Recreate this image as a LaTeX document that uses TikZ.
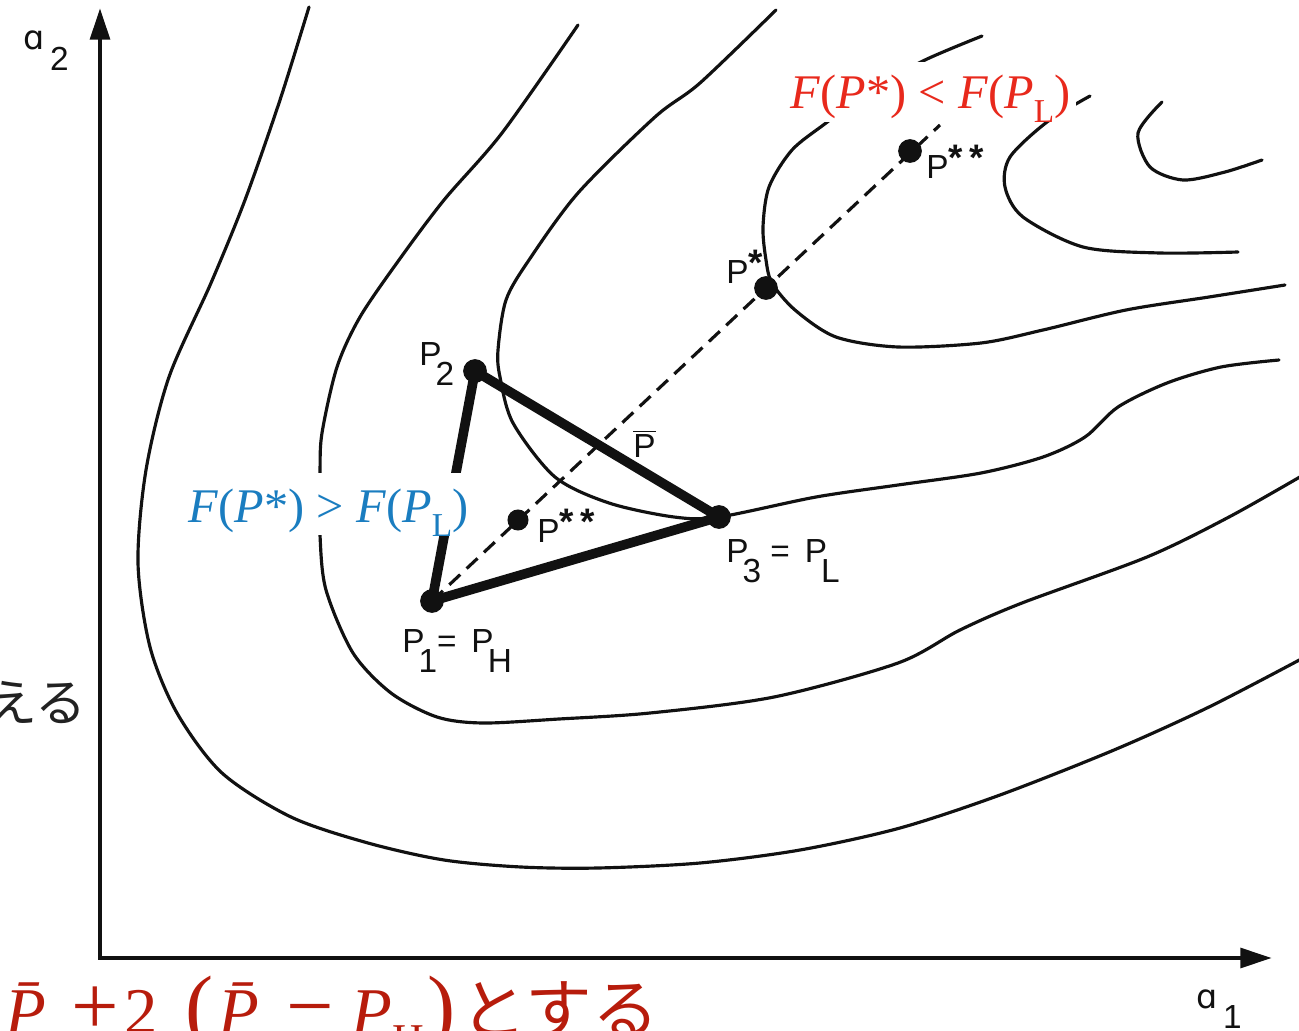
\documentclass[tikz,border=0pt]{standalone}
\usepackage{fontspec}
\usepackage{tikz}
\usetikzlibrary{arrows.meta}
\setmainfont{Liberation Serif}
\newfontfamily\lblfont{Liberation Sans}
\newfontfamily\alphafont{DejaVu Sans}
\newfontfamily\cjkfont{Noto Sans CJK JP}
\definecolor{ink}     {HTML}{111111}
\definecolor{inkgray} {HTML}{222222}
\definecolor{better}  {HTML}{E8291C}
\definecolor{worse}   {HTML}{1A7DC0}
\definecolor{noteRed} {HTML}{B71C0C}
\newcommand{\lsub}[1]{\kern-0.18em\raisebox{-0.62em}{#1}}
\newcommand{\lstar}[1]{\raisebox{0.22em}{\fontsize{21}{21}\selectfont\bfseries #1}}
\newcommand{\lbar}[1]{\ensuremath{\overline{\mbox{#1}}}}
\newcommand{\fsub}[1]{\raisebox{-0.3em}{\fontsize{19}{19}\selectfont #1}}
\newcommand{\bigpar}[1]{{\fontsize{48}{48}\selectfont #1}}
\tikzset{
  contour/.style ={draw=ink, line width=1.8pt, line cap=round},
  simplex/.style ={draw=ink, line width=5.5pt, line join=round, line cap=round},
  axis/.style    ={draw=ink, line width=2.8pt,
                   {Triangle[length=18pt,width=11pt]}-{Triangle[length=18pt,width=11pt]}},
  probe/.style   ={draw=ink, line width=1.8pt, dash pattern=on 8.5pt off 5pt},
  pt/.style      ={circle, fill=ink, inner sep=0pt, minimum size=13.5pt},
  lbl/.style     ={font=\lblfont\fontsize{19}{22}\selectfont, text=ink,
                   inner sep=0pt, anchor=base west},
  cond/.style    ={font=\fontsize{27.5}{30}\selectfont, fill=white,
                   inner xsep=3pt, inner ysep=0pt, anchor=base west},
}

\begin{document}
\begin{tikzpicture}[x=0.02cm, y=-0.02cm]
  \useasboundingbox (0,0) rectangle (1299,1031);

  \coordinate (top)    at (100,8);
  \coordinate (origin) at (100,958);
  \coordinate (right)  at (1272,958);
  \draw[axis] (top) -- (origin) -- (right);

  % contour lines, outermost first
  \draw[contour] plot[smooth] coordinates {(309,7) (280,100) (245,200) (211,283)
    (169,377) (146,470) (138,563) (150,647) (177,713) (222,773) (291,817) (368,843)
    (444,860) (521,867) (598,868) (700,863) (800,850) (900,828) (1000,795)
    (1114,750) (1209,707) (1305,657)};
  \draw[contour] plot[smooth] coordinates {(578,25) (502,133) (444,200) (399,260)
    (360,317) (337,367) (322,433) (320,473) (320,535) (326,590) (353,653) (391,693)
    (437,717) (483,723) (559,719) (650,713) (774,697) (898,663) (960,630)
    (1022,603) (1147,557) (1229,517) (1305,474)};
  \draw[contour] plot[smooth] coordinates {(776,10) (700,83) (655,117) (578,193)
    (529,260) (506,300) (498,350) (500,377) (513,423) (555,477) (609,503) (674,517)
    (719,517) (816,497) (898,485) (981,473) (1043,457) (1085,437) (1118,407)
    (1167,383) (1221,367) (1279,360)};
  \draw[contour] plot[smooth] coordinates {(982,36) (925,60) (870,90) (826,123)
    (792,150) (769,187) (763,227) (766,260) (772,283) (795,310) (836,337) (898,347)
    (981,343) (1043,330) (1126,310) (1209,297) (1285,285)};
  \draw[contour] plot[smooth] coordinates {(1090,96) (1047,122) (1010,157)
    (1005,187) (1023,217) (1083,247) (1160,253) (1238,252)};
  \draw[contour] plot[smooth] coordinates {(1162,102) (1138,133) (1150,167)
    (1183,180) (1225,172) (1262,160)};

  \node[pt] (P1)  at (432,601) {};
  \node[pt] (P2)  at (475,371) {};
  \node[pt] (P3)  at (719,517) {};
  \node[pt, minimum size=12pt] (Pss) at (518,520) {};
  \node[pt] (Ps)  at (766,288) {};
  \node[pt] (Pso) at (910,151) {};
  \coordinate (Pbar)   at (597,444);
  \coordinate (rayEnd) at (940,125);

  \draw[probe] (P1.center) -- (rayEnd);
  \draw[simplex] (P1.center) -- (P2.center) -- (P3.center) -- cycle;

  \node[lbl] (lP1)   at (402,652)  {P\lsub{1}= \,P\lsub{H}};
  \node[lbl] (lP2)   at (419,365)  {P\lsub{2}};
  \node[lbl] (lP3)   at (726,562)  {P\lsub{3} = \,P\lsub{L}};
  \node[lbl] (lPbar) at (633,457)  {\lbar{P}};
  \node[lbl] (lPss)  at (537,542)  {P\lstar{*\,*}};
  \node[lbl] (lPs)   at (726,283)  {P\lstar{*}};
  \node[lbl] (lPso)  at (926,178)  {P\lstar{*\,*}};
  \node[lbl] (la2)   at (23,50)    {{\alphafont ɑ}\hspace{0.35em}\lsub{2}};
  \node[lbl] (la1)   at (1196,1008){{\alphafont ɑ}\hspace{0.35em}\lsub{1}};

  \node[cond, text=better, text height=26pt, text depth=8pt] (condLess) at (785,108)
    {\textit{F}(\textit{P}*)\kern7pt<\kern7pt\textit{F}(\textit{P}\fsub{L})};
  \node[cond, text=worse, text height=28pt, text depth=7.4pt] (condMore) at (183,522)
    {\textit{F}(\textit{P}*)\kern7pt>\kern7pt\textit{F}(\textit{P}\fsub{L})};

  \node[font=\cjkfont\fontsize{29}{29}\selectfont, text=inkgray, inner sep=0pt,
        anchor=base east] (noteTop) at (87,721) {える};
  \node[font=\fontsize{38}{38}\selectfont, text=noteRed, inner sep=0pt,
        anchor=base west] (noteBottom) at (5,1034)
    {\textit{\={P}}\kern5pt\bigpar{+}\kern3pt2\kern16pt\bigpar{(}\kern3pt\textit{\={P}}\kern6pt\bigpar{−}\kern10pt\textit{P}\raisebox{-0.3em}{\fontsize{25}{25}\selectfont H}\kern2pt\bigpar{)}\kern3pt{\cjkfont とする}};
\end{tikzpicture}
\end{document}
